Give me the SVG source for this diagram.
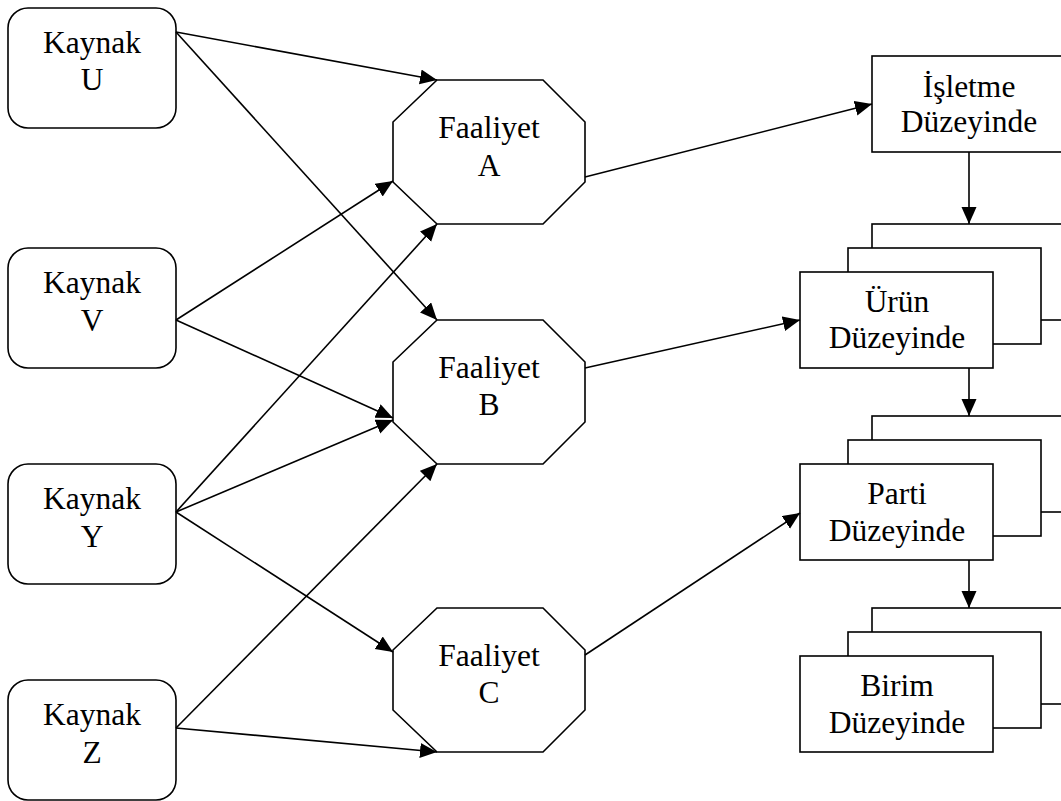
<svg xmlns="http://www.w3.org/2000/svg" width="1061" height="801" viewBox="0 0 1061 801">
  <style>
    .box { fill: #ffffff; stroke: #000000; stroke-width: 1.6; }
    .lbl { font-family: "Liberation Serif", Tinos, "Times New Roman", Times, "Nimbus Roman", "DejaVu Serif Condensed", serif; font-size: 31.5px; fill: #000000; text-anchor: middle; }
    .edge { fill: none; stroke: #000000; stroke-width: 1.6; marker-end: url(#arrow); }
  </style>
  <defs>
    <marker id="arrow" markerUnits="userSpaceOnUse" markerWidth="18" markerHeight="16" refX="17" refY="7.5" orient="auto">
      <path d="M0,0 L17,7.5 L0,15 z" fill="#000000"/>
    </marker>
  </defs>
  <rect width="1061" height="801" fill="#ffffff"/>

  <!-- resources -->
  <g id="kaynak-u">
    <rect class="box" x="8" y="8" width="168" height="120" rx="20"/>
    <text class="lbl" x="92" y="53">Kaynak</text>
    <text class="lbl" x="92" y="90">U</text>
  </g>
  <g id="kaynak-v">
    <rect class="box" x="8" y="248" width="168" height="120" rx="20"/>
    <text class="lbl" x="92" y="293">Kaynak</text>
    <text class="lbl" x="92" y="331">V</text>
  </g>
  <g id="kaynak-y">
    <rect class="box" x="8" y="464" width="168" height="120" rx="20"/>
    <text class="lbl" x="92" y="509">Kaynak</text>
    <text class="lbl" x="92" y="547">Y</text>
  </g>
  <g id="kaynak-z">
    <rect class="box" x="8" y="680" width="168" height="120" rx="20"/>
    <text class="lbl" x="92" y="725">Kaynak</text>
    <text class="lbl" x="92" y="763">Z</text>
  </g>

  <!-- activities -->
  <g id="faaliyet-a">
    <polygon class="box" points="437,80 543,80 585,122 585,182 543,224 437,224 393,182 393,122"/>
    <text class="lbl" x="489" y="138">Faaliyet</text>
    <text class="lbl" x="489" y="176">A</text>
  </g>
  <g id="faaliyet-b">
    <polygon class="box" points="437,320 543,320 585,362 585,422 543,464 437,464 393,422 393,362"/>
    <text class="lbl" x="489" y="378">Faaliyet</text>
    <text class="lbl" x="489" y="415">B</text>
  </g>
  <g id="faaliyet-c">
    <polygon class="box" points="437,608 543,608 585,650 585,710 543,752 437,752 393,710 393,650"/>
    <text class="lbl" x="489" y="666">Faaliyet</text>
    <text class="lbl" x="489" y="703">C</text>
  </g>

  <!-- cost levels -->
  <g id="isletme">
    <rect class="box" x="872" y="56" width="193" height="96"/>
    <text class="lbl" x="969" y="97">İşletme</text>
    <text class="lbl" x="969" y="132">Düzeyinde</text>
  </g>
  <g id="urun">
    <rect class="box" x="872" y="224" width="193" height="96"/>
    <rect class="box" x="848" y="248" width="193" height="96"/>
    <rect class="box" x="800" y="272" width="193" height="96"/>
    <text class="lbl" x="897" y="312">Ürün</text>
    <text class="lbl" x="897" y="348">Düzeyinde</text>
  </g>
  <g id="parti">
    <rect class="box" x="872" y="416" width="193" height="96"/>
    <rect class="box" x="848" y="440" width="193" height="96"/>
    <rect class="box" x="800" y="464" width="193" height="96"/>
    <text class="lbl" x="897" y="504">Parti</text>
    <text class="lbl" x="897" y="541">Düzeyinde</text>
  </g>
  <g id="birim">
    <rect class="box" x="872" y="608" width="193" height="96"/>
    <rect class="box" x="848" y="632" width="193" height="96"/>
    <rect class="box" x="800" y="656" width="193" height="96"/>
    <text class="lbl" x="897" y="696">Birim</text>
    <text class="lbl" x="897" y="733">Düzeyinde</text>
  </g>

  <!-- connectors -->
  <g id="connectors">
    <line class="edge" x1="176" y1="32" x2="437" y2="80"/>
    <line class="edge" x1="176" y1="32" x2="437" y2="320"/>
    <line class="edge" x1="176" y1="320" x2="393" y2="181"/>
    <line class="edge" x1="176" y1="320" x2="393" y2="418"/>
    <line class="edge" x1="176" y1="512" x2="437" y2="224"/>
    <line class="edge" x1="176" y1="512" x2="393" y2="420"/>
    <line class="edge" x1="176" y1="512" x2="393" y2="652"/>
    <line class="edge" x1="176" y1="728" x2="437" y2="464"/>
    <line class="edge" x1="176" y1="728" x2="437" y2="752"/>
    <line class="edge" x1="585" y1="177" x2="872" y2="104"/>
    <line class="edge" x1="585" y1="368" x2="800" y2="320"/>
    <line class="edge" x1="585" y1="655" x2="800" y2="513"/>
    <line class="edge" x1="969" y1="152" x2="969" y2="224"/>
    <line class="edge" x1="969" y1="368" x2="969" y2="416"/>
    <line class="edge" x1="969" y1="560" x2="969" y2="608"/>
  </g>
</svg>
